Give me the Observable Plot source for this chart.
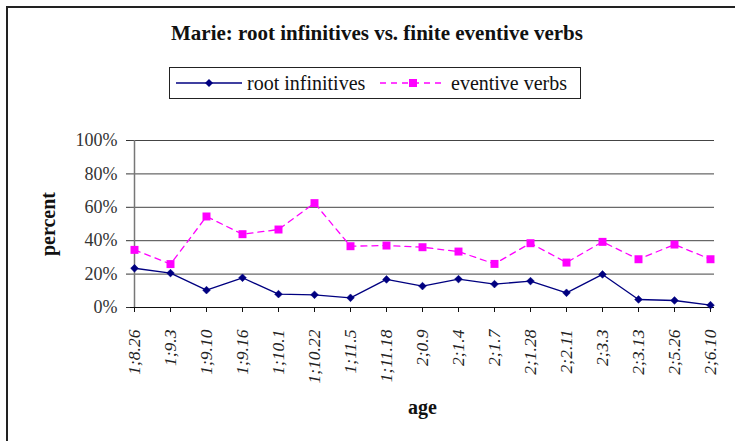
<!DOCTYPE html>
<html>
<head>
<meta charset="utf-8">
<script src="https://cdn.jsdelivr.net/npm/d3@7"></script>
<script src="https://cdn.jsdelivr.net/npm/@observablehq/plot@0.6"></script>
<style>
  html, body { margin: 0; padding: 0; background: #fff; }
  #wrap { position: relative; width: 735px; height: 441px; overflow: hidden; font-family: "Liberation Serif", "DejaVu Serif", serif; color: #111; }
  #frame { position: absolute; left: 6px; top: 6px; width: 740px; height: 450px; border-top: 2px solid #222; border-left: 2px solid #222; }
  #title { position: absolute; left: 7px; width: 740px; top: 21px; text-align: center; font-family: "Liberation Serif", serif; font-weight: bold; font-size: 21px; }
  #legend { position: absolute; left: 169px; top: 67px; }
  #legend svg { display: block; }
  #chart { position: absolute; left: 0; top: 0; }
</style>
</head>
<body>
<div id="wrap">
  <div id="frame"></div>
  <div id="chart"></div>
  <div id="title"></div>
  <div id="legend"></div>
</div>
<script>
const titleText = "Marie: root infinitives vs. finite eventive verbs";
const ages = ["1;8.26","1;9.3","1;9.10","1;9.16","1;10.1","1;10.22","1;11.5","1;11.18","2;0.9","2;1.4","2;1.7","2;1.28","2;2.11","2;3.3","2;3.13","2;5.26","2;6.10"];
const rootInfinitives = [23.5, 20.6, 10.4, 17.8, 8.0, 7.6, 5.8, 16.8, 12.8, 17.0, 14.0, 15.8, 8.8, 19.8, 4.8, 4.2, 1.4];
const eventiveVerbs = [34.5, 26.0, 54.5, 43.9, 46.7, 62.5, 36.7, 37.1, 36.1, 33.5, 26.1, 38.5, 26.9, 39.3, 28.9, 37.7, 28.9];
const yTicks = [0, 20, 40, 60, 80, 100];
const seriesNames = ["root infinitives", "eventive verbs"];
const seriesColors = ["#000080", "#FF00FF"];

const rows = [];
ages.forEach((a, i) => {
  rows.push({age: a, value: rootInfinitives[i], series: seriesNames[0]});
  rows.push({age: a, value: eventiveVerbs[i], series: seriesNames[1]});
});
const ri = rows.filter(d => d.series === seriesNames[0]);
const ev = rows.filter(d => d.series === seriesNames[1]);

document.getElementById("title").textContent = titleText;

const font = "Liberation Serif";
const chart = Plot.plot({
  width: 735,
  height: 441,
  marginTop: 140,
  marginBottom: 134,
  marginLeft: 130,
  marginRight: 21,
  style: {fontFamily: font, background: "transparent", color: "#111", overflow: "visible"},
  x: {type: "point", domain: ages, padding: 0},
  y: {domain: [0, 100]},
  marks: [
    Plot.gridY(yTicks.slice(1), {stroke: "#444", strokeOpacity: 1, strokeWidth: 1}),
    Plot.ruleX([ages[0]], {y1: 0, y2: 100, stroke: "#777", strokeWidth: 1.5}),
    Plot.ruleY([0], {stroke: "#111", strokeWidth: 1}),
    Plot.axisY({ticks: yTicks, tickFormat: d => d + "%", tickSize: 4, tickPadding: 9, fontSize: 18, label: null, stroke: "#333", fill: "#333"}),
    Plot.axisX({tickSize: 5, tickRotate: -90, tickPadding: 17, fontSize: 17.5, fontStyle: "italic", label: null, stroke: "#111", fill: "#222"}),
    Plot.line(ri, {x: "age", y: "value", stroke: seriesColors[0], strokeWidth: 1.3}),
    Plot.line(ev, {x: "age", y: "value", stroke: seriesColors[1], strokeWidth: 1.3, strokeDasharray: "6,5"}),
    Plot.dot(ri, {x: "age", y: "value", symbol: "diamond2", r: 3.5, fill: seriesColors[0], stroke: seriesColors[0], strokeWidth: 0.5}),
    Plot.dot(ev, {x: "age", y: "value", symbol: "square", r: 4.5, fill: seriesColors[1], stroke: "none"}),
    Plot.text(["percent"], {frameAnchor: "left", textAnchor: "middle", lineAnchor: "middle", dx: -82, rotate: -90, fontSize: 20, fontWeight: "bold", fill: "#111"}),
    Plot.text(["age"], {frameAnchor: "bottom", textAnchor: "middle", lineAnchor: "middle", dy: 100, fontSize: 20, fontWeight: "bold", fill: "#111"})
  ]
});
document.getElementById("chart").appendChild(chart);

// legend (SVG)
const lw = 412, lh = 32;
const lsvg = d3.create("svg").attr("width", lw).attr("height", lh)
  .style("font-family", "'Liberation Serif', serif").style("font-size", "20px");
lsvg.append("rect").attr("x", 0.5).attr("y", 0.5).attr("width", lw - 1).attr("height", lh - 1)
  .attr("fill", "white").attr("stroke", "#222").attr("stroke-width", 1);
const items = [
  {x0: 7, marker: "diamond", dash: null},
  {x0: 211, marker: "square", dash: "6,5"}
];
items.forEach((it, i) => {
  const g = lsvg.append("g").attr("transform", `translate(${it.x0},${lh / 2})`);
  g.append("line").attr("x1", 0).attr("x2", 66).attr("y1", 0).attr("y2", 0)
    .attr("stroke", seriesColors[i]).attr("stroke-width", 1.3).attr("stroke-dasharray", it.dash);
  if (it.marker === "diamond") {
    g.append("path").attr("d", "M33,-4L37,0L33,4L29,0Z").attr("fill", seriesColors[i]);
  } else {
    g.append("rect").attr("x", 29).attr("y", -4).attr("width", 8).attr("height", 8).attr("fill", seriesColors[i]);
  }
  g.append("text").attr("x", 71).attr("y", 0).attr("dy", "0.35em").attr("fill", "#111").text(seriesNames[i]);
});
document.getElementById("legend").appendChild(lsvg.node());
</script>
</body>
</html>
